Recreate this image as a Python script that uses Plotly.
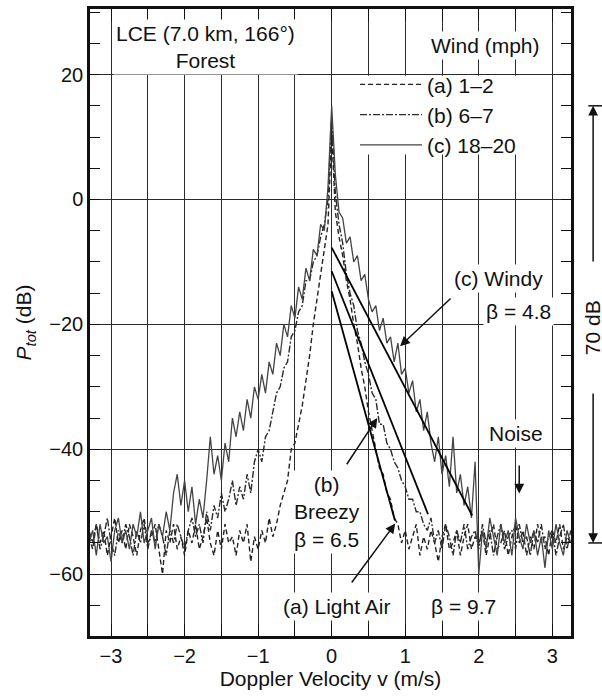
import plotly.graph_objects as go

# ---------------- data ----------------
# Doppler velocity sampling grid (m/s), -3.30 ... 3.25 in 0.05 steps
velocity = [round(-3.30 + 0.05 * i, 2) for i in range(132)]

# (a) 1-2 mph, light air (dB)
p_light_air = [
    -54, -56, -52, -55, -53, -57, -54, -51, -55, -53,
    -56, -52, -54, -57, -53, -51, -55, -54, -52, -56,
    -60, -53, -55, -52, -56, -54, -57, -53, -55, -52,
    -56, -54, -51, -55, -57, -53, -56, -52, -55, -54,
    -57, -53, -55, -52, -58, -54, -56, -53, -55, -51,
    -54, -52, -49, -47, -45, -40, -39, -36, -33, -29,
    -25, -20, -16, -12, -8, -4, 11, -2, -6, -9,
    -13, -16, -20, -23, -27, -30, -34, -37, -40, -43,
    -44, -47, -48, -51, -52, -55, -53, -56, -54, -52,
    -57, -54, -56, -53, -55, -58, -54, -52, -56, -55,
    -53, -57, -54, -52, -56, -54, -55, -53, -57, -54,
    -52, -56, -55, -53, -57, -54, -52, -55, -53, -57,
    -54, -56, -52, -55, -54, -57, -53, -55, -52, -56,
    -54, -55,
]

# (b) 6-7 mph, breezy (dB)
p_breezy = [
    -53, -55, -52, -56, -54, -51, -55, -57, -53, -55,
    -52, -54, -57, -53, -55, -52, -56, -53, -55, -52,
    -54, -57, -53, -55, -52, -54, -56, -53, -51, -54,
    -52, -55, -50, -53, -49, -51, -47, -50, -48, -45,
    -49, -46, -48, -44, -47, -42, -40, -42, -38, -37,
    -34, -31, -30, -27, -26, -22, -21, -18, -17, -13,
    -13, -10, -9, -6, -4, 0, 13, 1, -4, -7,
    -12, -15, -17, -21, -23, -26, -28, -31, -32, -36,
    -36, -39, -40, -42, -43, -45, -46, -48, -48, -50,
    -50, -52, -53, -51, -55, -53, -56, -52, -54, -57,
    -53, -55, -52, -56, -54, -53, -56, -52, -55, -53,
    -57, -54, -52, -56, -54, -53, -56, -52, -55, -54,
    -57, -53, -55, -52, -56, -54, -53, -57, -54, -52,
    -56, -53,
]

# (c) 18-20 mph, windy (dB)
p_windy = [
    -55, -53, -57, -52, -55, -54, -58, -53, -51, -55,
    -53, -56, -52, -54, -50, -55, -53, -51, -56, -52,
    -54, -50, -53, -47, -44, -49, -45, -50, -46, -52,
    -48, -51, -45, -38, -44, -41, -45, -39, -42, -35,
    -38, -34, -37, -32, -35, -30, -32, -28, -31, -26,
    -28, -23, -25, -20, -22, -17, -19, -14, -16, -11,
    -13, -8, -9, -4, -5, 2, 15, 4, -2, -3,
    -7, -6, -10, -9, -13, -12, -16, -18, -17, -21,
    -19, -23, -22, -26, -23, -28, -27, -31, -29, -34,
    -32, -37, -34, -39, -42, -38, -44, -41, -46, -38,
    -47, -44, -49, -46, -51, -42, -60, -53, -56, -51,
    -54, -57, -52, -55, -53, -57, -51, -54, -56, -52,
    -55, -53, -57, -54, -59, -53, -56, -52, -55, -57,
    -53, -55,
]

series_names = ["(a) 1\u20132", "(b) 6\u20137", "(c) 18\u201320"]

# straight-line fits (start / end points), order a, b, c
fit_v0 = [0.0, 0.0, 0.0]
fit_db0 = [-14.7, -11.5, -7.7]
fit_v1 = [0.86, 1.31, 1.91]
fit_db1 = [-51.4, -50.4, -50.6]

x_ticks = [-3, -2, -1, 0, 1, 2, 3]
y_ticks = [-60, -40, -20, 0, 20]

# ---------------- figure ----------------
FONT = "Liberation Sans, Arial, sans-serif"
fig = go.Figure()

styles = [
    dict(color="#222222", width=1.4, dash="5px,3px"),
    dict(color="#2a2a2a", width=1.4, dash="7px,2px,2px,2px"),
    dict(color="#444444", width=1.3, dash="solid"),
]
for name, ys, st in zip(series_names, [p_light_air, p_breezy, p_windy], styles):
    fig.add_trace(go.Scatter(x=velocity, y=ys, mode="lines", name=name,
                             line=st, showlegend=True))

for v0, d0, v1, d1 in zip(fit_v0, fit_db0, fit_v1, fit_db1):
    fig.add_trace(go.Scatter(x=[v0, v1], y=[d0, d1], mode="lines",
                             line=dict(color="black", width=1.8),
                             showlegend=False, hoverinfo="skip"))

txt = dict(size=21, color="#111", family=FONT)


def label(text, x, y, **kw):
    fig.add_annotation(text=text, x=x, y=y, xref="x", yref="y", showarrow=False,
                       font=txt, bgcolor="white", borderpad=2, **kw)


label("LCE (7.0 km, 166°)<br>Forest", -1.72, 24.4)
label("Wind (mph)", 2.09, 24.6)
label("(c) Windy", 2.27, -12.6)
label("\u03b2 = 4.8", 2.54, -18.0)
label("(b)<br>Breezy<br>\u03b2 = 6.5", -0.06, -50.0)
label("(a) Light Air", 0.07, -65.1)
label("\u03b2 = 9.7", 1.79, -65.1)
label("Noise", 2.51, -37.4)


def arrow(x, y, ax, ay):
    fig.add_annotation(x=x, y=y, xref="x", yref="y", ax=ax, ay=ay, text=" ",
                       showarrow=True, arrowhead=2, arrowsize=1.3,
                       arrowwidth=1.5, arrowcolor="#111")


arrow(0.93, -23.5, 55, -52)
arrow(0.62, -35.0, -35, 53)
arrow(0.864, -51.9, -48, 65)
arrow(2.55, -47.1, 0, -41)

# 70 dB dimension at the right edge
for lvl in [15, -55]:
    fig.add_shape(type="line", xref="paper", yref="y", x0=1.036, x1=1.09,
                  y0=lvl, y1=lvl, line=dict(color="#111", width=1.5))
fig.add_annotation(xref="paper", yref="y", x=1.046, y=15, axref="pixel",
                   ayref="y", ax=0, ay=-12, text=" ", showarrow=True,
                   arrowhead=2, arrowsize=1.3, arrowwidth=1.5, arrowcolor="#111")
fig.add_annotation(xref="paper", yref="y", x=1.046, y=-55, axref="pixel",
                   ayref="y", ax=0, ay=-29, text=" ", showarrow=True,
                   arrowhead=2, arrowsize=1.3, arrowwidth=1.5, arrowcolor="#111")
fig.add_annotation(xref="paper", yref="y", x=1.045, y=-20.5, text="70 dB",
                   xanchor="center", yanchor="middle",
                   textangle=-90, showarrow=False, font=txt)

# white area behind the legend (hides grid, not data)
fig.add_shape(type="rect", xref="x", yref="y", x0=0.25, x1=2.6, y0=7.2, y1=19.8,
              fillcolor="white", line=dict(width=0), layer="between")

grid = "#2b2b2b"
fig.update_layout(
    width=602, height=698,
    margin=dict(l=90, r=31, t=6, b=62),
    paper_bgcolor="white", plot_bgcolor="white",
    font=dict(family=FONT, size=21, color="#111"),
    legend=dict(x=0.551, y=0.912, xanchor="left", yanchor="top",
                bgcolor="rgba(0,0,0,0)", borderwidth=0, itemwidth=62,
                tracegroupgap=0,
                font=dict(size=21, family=FONT, color="#111")),
    xaxis=dict(
        range=[-3.286, 3.254], tickmode="array", tickvals=x_ticks,
        ticks="inside", ticklen=12, tickwidth=1, tickcolor="#111",
        showgrid=True, gridcolor=grid, gridwidth=1, zeroline=False,
        minor=dict(tickmode="linear", tick0=0, dtick=0.5, ticks="inside",
                   ticklen=12, tickcolor="#111", showgrid=True,
                   gridcolor=grid, gridwidth=1),
        showline=True, linewidth=2.5, linecolor="#111", mirror="allticks",
        tickfont=dict(size=20), title=dict(text="Doppler Velocity v (m/s)",
                                           font=dict(size=21), standoff=6),
    ),
    yaxis=dict(
        range=[-69.9, 30.5], tickmode="array", tickvals=y_ticks,
        ticks="inside", ticklen=10, tickwidth=1, tickcolor="#111",
        showgrid=True, gridcolor=grid, gridwidth=1, zeroline=False,
        minor=dict(tickmode="linear", tick0=0, dtick=5, ticks="inside",
                   ticklen=10, tickcolor="#111", showgrid=False),
        showline=True, linewidth=2.5, linecolor="#111", mirror="allticks",
        tickfont=dict(size=20),
        title=dict(text="<i>P</i><sub><i>tot</i></sub> (dB)",
                   font=dict(size=21), standoff=12),
    ),
)

fig.write_html("out.html")
